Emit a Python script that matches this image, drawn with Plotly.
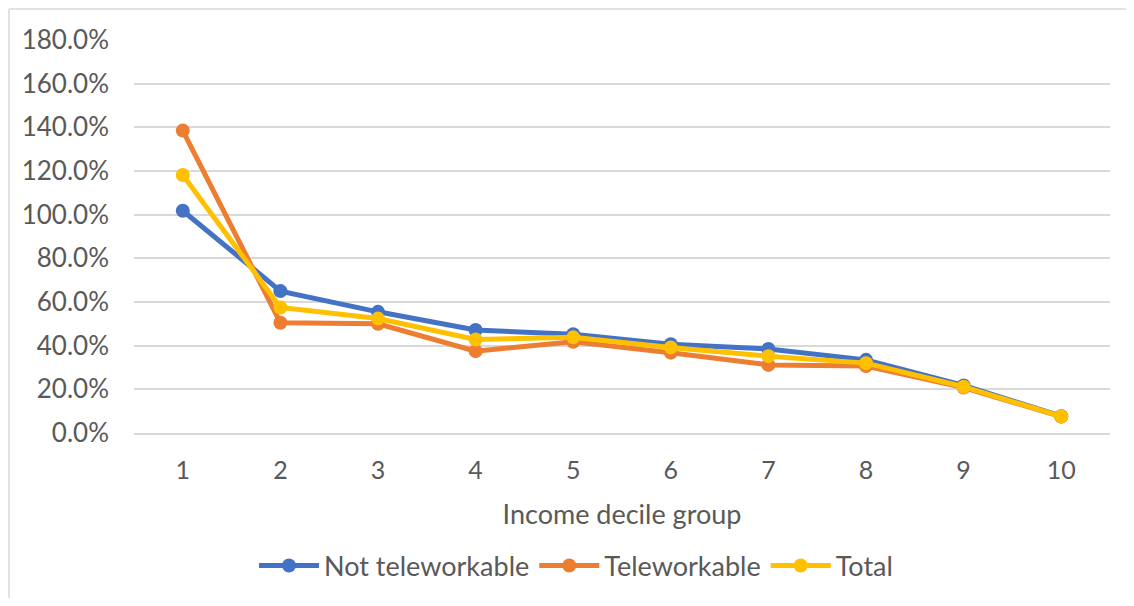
import plotly.graph_objects as go

deciles = [1, 2, 3, 4, 5, 6, 7, 8, 9, 10]
not_telework = [1.018, 0.650, 0.555, 0.472, 0.452, 0.407, 0.385, 0.335, 0.218, 0.077]
telework = [1.385, 0.505, 0.500, 0.375, 0.418, 0.368, 0.312, 0.307, 0.208, 0.075]
total = [1.182, 0.575, 0.524, 0.428, 0.438, 0.392, 0.352, 0.320, 0.212, 0.076]

series = [
    ("Not teleworkable", not_telework, "#4472C4"),
    ("Teleworkable", telework, "#ED7D31"),
    ("Total", total, "#FFC000"),
]

# page has an 8px body margin; compensate so screen positions match
OFF = 8
W, H = 1134 - 2 * OFF, 606 - 2 * OFF
L = 134 - OFF
T = 40 - OFF
R = W - (1110 - OFF)
B = H - (433 - OFF)

fig = go.Figure()
for name, vals, col in series:
    fig.add_trace(go.Scatter(
        x=deciles, y=vals, name=name, mode="lines+markers",
        line=dict(color=col, width=5),
        marker=dict(color=col, size=14),
    ))

font = "Lato, 'Open Sans', sans-serif"
pw = W - L - R
ph = H - T - B
fig.update_layout(
    width=W, height=H,
    margin=dict(l=L, r=R, t=T, b=B, autoexpand=False),
    plot_bgcolor="white", paper_bgcolor="white",
    font=dict(family=font, size=25, color="#595959"),
    xaxis=dict(
        range=[0.5, 10.5], tickmode="array", tickvals=deciles,
        ticktext=[str(d) for d in deciles],
        showgrid=False, zeroline=False,
        showline=True, linecolor="#D9D9D9", linewidth=1.5,
        ticks="", ticklen=0, ticklabelstandoff=14,
        title=dict(text="Income decile group", font=dict(size=27, color="#595959"), standoff=22),
        tickfont=dict(size=25),
    ),
    yaxis=dict(
        range=[0, 1.8], dtick=0.2, tickformat=".1%",
        showgrid=True, gridcolor="#D9D9D9", gridwidth=1.5,
        zeroline=False, showline=False, ticks="",
        ticklabelstandoff=24,
        tickfont=dict(size=26),
    ),
    legend=dict(
        orientation="h", x=(576 - 134) / pw, xanchor="center",
        y=-(566 - 433) / ph, yanchor="middle",
        font=dict(size=27, color="#595959"),
        itemwidth=60, tracegroupgap=0,
    ),
    showlegend=True,
    shapes=[
        dict(type="line", xref="paper", yref="paper",
             x0=-(L - 1) / pw, x1=(W - L) / pw,
             y0=1 + (T - 1) / ph, y1=1 + (T - 1) / ph,
             line=dict(color="#D9D9D9", width=1.5), layer="below"),
        dict(type="line", xref="paper", yref="paper",
             x0=-(L - 1) / pw, x1=-(L - 1) / pw,
             y0=-B / ph, y1=1 + (T - 1) / ph,
             line=dict(color="#D9D9D9", width=1.5), layer="below"),
    ],
)

fig.write_html("out.html")
